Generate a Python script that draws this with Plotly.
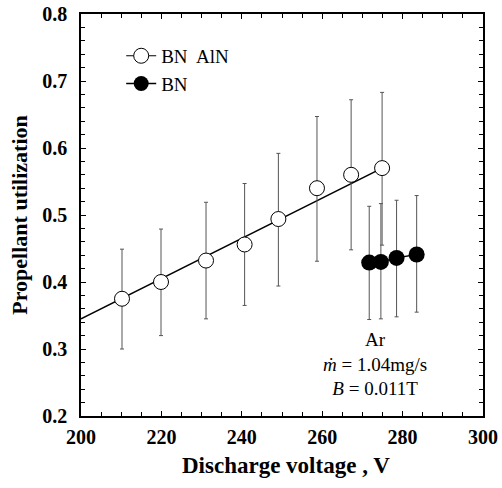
import plotly.graph_objects as go

# BN/AlN (open circles)
v_open = [210.2, 219.9, 231.1, 240.7, 249.1, 258.7, 267.2, 274.9]
u_open = [0.375, 0.400, 0.432, 0.456, 0.494, 0.540, 0.560, 0.570]
u_open_hi = [0.449, 0.479, 0.519, 0.547, 0.592, 0.647, 0.672, 0.683]
u_open_lo = [0.300, 0.320, 0.345, 0.365, 0.394, 0.431, 0.448, 0.455]

# BN (filled circles)
v_fill = [271.7, 274.6, 278.5, 283.5]
u_fill = [0.429, 0.430, 0.436, 0.441]
u_fill_hi = [0.513, 0.517, 0.522, 0.529]
u_fill_lo = [0.344, 0.345, 0.348, 0.355]

# Linear fit line for BN/AlN
fit_v = [200.0, 274.9]
fit_u = [0.345, 0.570]

x_ticks = [200, 220, 240, 260, 280, 300]
y_ticks = [0.2, 0.3, 0.4, 0.5, 0.6, 0.7, 0.8]

serif = "Liberation Serif, Times New Roman, serif"

fig = go.Figure()

fig.add_trace(go.Scatter(x=fit_v, y=fit_u, mode="lines",
                         line=dict(color="black", width=1.6), showlegend=False, hoverinfo="skip"))

fig.add_trace(go.Scatter(
    x=v_open, y=u_open, mode="markers",
    marker=dict(symbol="circle", size=15, color="white", line=dict(color="black", width=1)),
    error_y=dict(type="data", symmetric=False,
                 array=[h - u for h, u in zip(u_open_hi, u_open)],
                 arrayminus=[u - l for u, l in zip(u_open, u_open_lo)],
                 color="#555555", thickness=1, width=2),
    showlegend=False))

fig.add_trace(go.Scatter(
    x=v_fill, y=u_fill, mode="lines+markers",
    line=dict(color="black", width=1.5),
    marker=dict(symbol="circle", size=16, color="black"),
    error_y=dict(type="data", symmetric=False,
                 array=[h - u for h, u in zip(u_fill_hi, u_fill)],
                 arrayminus=[u - l for u, l in zip(u_fill, u_fill_lo)],
                 color="#555555", thickness=1, width=2),
    showlegend=False))

# legend entries
fig.add_trace(go.Scatter(x=[None], y=[None], mode="lines+markers", name="BN  AlN",
                         line=dict(color="black", width=1),
                         marker=dict(symbol="circle", size=15, color="white",
                                     line=dict(color="black", width=1))))
fig.add_trace(go.Scatter(x=[None], y=[None], mode="lines+markers", name="BN",
                         line=dict(color="black", width=1.5),
                         marker=dict(symbol="circle", size=15, color="black")))

fig.add_annotation(x=0.731, y=0.129, xref="paper", yref="paper", showarrow=False,
                   xanchor="center", yanchor="middle",
                   text="Ar<br><i>m\u0307</i> = 1.04mg/s<br><i>B</i> = 0.011T",
                   align="center", font=dict(family=serif, size=19, color="black"))

# axis titles
fig.add_annotation(x=0.51, y=-0.088, xref="paper", yref="paper", showarrow=False,
                   xanchor="center", yanchor="top", text="Discharge voltage , V",
                   font=dict(family=serif, size=23, color="black", weight="bold"))
fig.add_annotation(x=-0.155, y=0.5, xref="paper", yref="paper", showarrow=False,
                   xanchor="center", yanchor="middle", text="Propellant utilization", textangle=-90,
                   font=dict(family=serif, size=22, color="black", weight="bold"))

axis_common = dict(showline=True, linecolor="black", linewidth=1.5, mirror="allticks",
                   ticks="inside", ticklen=5, tickcolor="black", tickwidth=1.2,
                   showgrid=False, zeroline=False, automargin=False,
                   ticklabeloverflow="allow",
                   tickfont=dict(family=serif, size=20, color="black", weight="bold"))

fig.update_xaxes(range=[200, 300], tickvals=x_ticks, ticktext=[str(v) for v in x_ticks],
                 ticklabelstandoff=2,
                 minor=dict(dtick=5, tick0=200, ticks="inside", ticklen=4, tickcolor="black", showgrid=False),
                 **axis_common)
fig.update_yaxes(range=[0.2, 0.8], tickvals=y_ticks, ticktext=[f"{v:.1f}" for v in y_ticks],
                 ticklabelstandoff=8,
                 minor=dict(dtick=0.02, tick0=0.2, ticks="inside", ticklen=4, tickcolor="black", showgrid=False),
                 **axis_common)

fig.update_layout(width=502, height=488,
                  margin=dict(l=81, r=19, t=14, b=72),
                  plot_bgcolor="white", paper_bgcolor="white",
                  legend=dict(x=0.1, y=0.943, xanchor="left", yanchor="top",
                              bgcolor="rgba(0,0,0,0)", tracegroupgap=0,
                              font=dict(family=serif, size=19, color="black"),
                              itemwidth=30))

fig.write_html("out.html", config={"displayModeBar": False},
               post_script="document.body.style.margin='0';document.body.style.overflow='hidden';")
